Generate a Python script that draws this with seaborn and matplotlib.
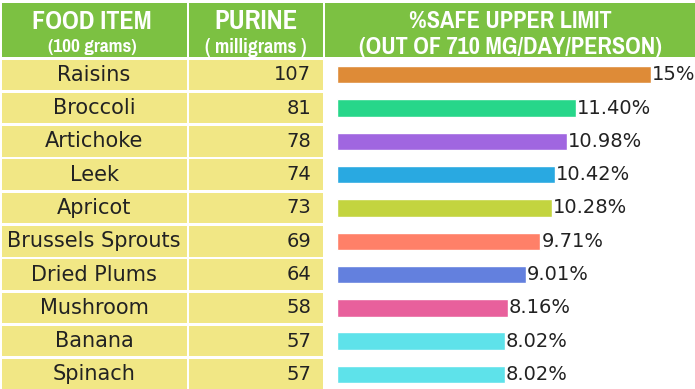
"""Purine content chart"""
import pandas as pd
import matplotlib
matplotlib.use("Agg")
import matplotlib.pyplot as plt
import seaborn as sns
from matplotlib import font_manager as fm
from matplotlib.patches import Rectangle

foods = ["Raisins", "Broccoli", "Artichoke", "Leek", "Apricot",
         "Brussels Sprouts", "Dried Plums", "Mushroom", "Banana", "Spinach"]
purine_mg = [107, 81, 78, 74, 73, 69, 64, 58, 57, 57]
safe_pct = [15.0, 11.40, 10.98, 10.42, 10.28, 9.71, 9.01, 8.16, 8.02, 8.02]
pct_labels = ["15%", "11.40%", "10.98%", "10.42%", "10.28%",
              "9.71%", "9.01%", "8.16%", "8.02%", "8.02%"]
bar_colors = ["#DE8B37", "#27D68A", "#A066E0", "#29A9E1", "#C3D43F",
              "#FF8068", "#6380DE", "#E8609C", "#5EE2EA", "#5EE2EA"]

df = pd.DataFrame({"food": foods, "purine": purine_mg, "pct": safe_pct})

sns.set_style("white")
plt.rcParams["font.family"] = ["DejaVu Sans"]


def condensed_bold():
    # look for any installed condensed / narrow bold face for the header
    keys = ["Narrow-Bold", "NarrowBold", "Condensed-Bold", "CondensedBold",
            "Condensed_Bold", "Condensed-ExtraBold", "Condensed-SemiBold"]
    files = sorted(f.fname for f in fm.fontManager.ttflist)
    for k in keys:
        for fn in files:
            if k.lower() in fn.lower() and "oblique" not in fn.lower() and "italic" not in fn.lower():
                return fn
    return None


hdr_file = condensed_bold()


def hdr_font(size):
    if hdr_file:
        return fm.FontProperties(fname=hdr_file, size=size)
    return fm.FontProperties(family="DejaVu Sans", weight="bold", size=size * 0.8)


W, H = 695, 389
fig = plt.figure(figsize=(W / 100, H / 100), dpi=100)

# background table, pixel coords
bg = fig.add_axes([0, 0, 1, 1])
bg.set_xlim(0, W)
bg.set_ylim(H, 0)
bg.axis("off")

green = "#7CC142"
yellow = "#F1E785"
ink = "#222222"
cols = [(2, 187), (189, 323), (325, 695)]
for x0, x1 in cols:
    bg.add_patch(Rectangle((x0, 3), x1 - x0, 54, color=green, lw=0))

row0, pitch, row_h = 59.5, 33.3, 30.5
for i in range(len(foods)):
    top = row0 + pitch * i
    for x0, x1 in cols[:2]:
        bg.add_patch(Rectangle((x0, top), x1 - x0, row_h, color=yellow, lw=0))
    yc = top + row_h / 2
    bg.text(94, yc, foods[i], ha="center", va="center", fontsize=15, color=ink)
    bg.text(311, yc, str(purine_mg[i]), ha="right", va="center", fontsize=14, color=ink)

hdr = dict(color="white", ha="center", va="center")
bg.text(92, 21, "FOOD ITEM", fontproperties=hdr_font(20.5), **hdr)
bg.text(92, 47, "(100 grams)", fontproperties=hdr_font(15), **hdr)
bg.text(256, 21, "PURINE", fontproperties=hdr_font(21), **hdr)
bg.text(256, 47, "( milligrams )", fontproperties=hdr_font(15.5), **hdr)
bg.text(510, 21, "%SAFE UPPER LIMIT", fontproperties=hdr_font(19), **hdr)
bg.text(510, 47, "(OUT OF 710 MG/DAY/PERSON)", fontproperties=hdr_font(19), **hdr)

# bars
x_left = 337
ax = fig.add_axes([x_left / W, 0, (W - x_left) / W, 1])
ax.patch.set_alpha(0)
sns.barplot(data=df, y="food", x="pct", hue="food", palette=bar_colors,
            legend=False, orient="h", width=0.52, ax=ax, saturation=1)
px_per_pct = 314 / 15
ax.set_xlim(0, (W - x_left) / px_per_pct)
first_c = row0 + row_h / 2
ax.set_ylim((H - first_c) / pitch, -first_c / pitch)
ax.axis("off")

for i, (v, lab) in enumerate(zip(safe_pct, pct_labels)):
    ax.text(v + 0.05, i, lab, ha="left", va="center", fontsize=14, color=ink)

fig.savefig("out.png", dpi=100)
plt.close()
